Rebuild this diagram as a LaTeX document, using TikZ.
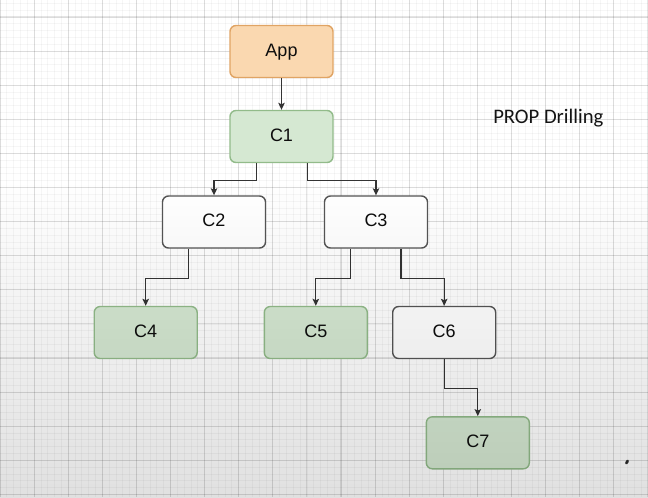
\documentclass[tikz,border=0pt]{standalone}
\usepackage{fontspec}
\newfontfamily\nodefont{Liberation Sans}
\newfontfamily\propfont{Carlito}
\usetikzlibrary{arrows.meta,calc,fadings}
\definecolor{appfill}{HTML}{FAD8B0}
\definecolor{appdraw}{HTML}{E0A464}
\definecolor{grnfill}{HTML}{D5E8D2}
\definecolor{grndraw}{HTML}{92BB8A}
\definecolor{wdraw}{HTML}{555555}
\definecolor{linec}{HTML}{333333}
\tikzfading[name=vdown, top color=transparent!100, bottom color=transparent!0]
\tikzset{
  box/.style={rounded corners=4.5pt, minimum width=77.25pt, minimum height=39pt,
    line width=1.05pt, inner sep=0pt, text=black!95,
    font=\nodefont\fontsize{13.5}{16}\selectfont, text height=0.716em, text depth=0pt},
  appbox/.style={box, fill=appfill, draw=appdraw},
  grnbox/.style={box, fill=grnfill, draw=grndraw},
  whbox/.style={box, fill=white, draw=wdraw},
  arr/.style={draw=linec, line width=1pt, -{Stealth[length=5.2pt,width=4.8pt,inset=1pt]}},
  minorgrid/.style={draw=black, opacity=0.035, line width=0.6pt},
  majorgrid/.style={draw=black, opacity=0.10, line width=0.8pt},
}
\begin{document}
\begin{tikzpicture}[x=0.75pt,y=-0.75pt]
\useasboundingbox (0,0) rectangle (648,497);
\fill[white] (0,0) rectangle (648,497);
% grid
\foreach \i in {0,...,95} {\draw[minorgrid] (\i*6.82,0) -- (\i*6.82,497);}
\foreach \j in {-2,...,70} {\draw[minorgrid] (0,17+\j*6.82) -- (648,17+\j*6.82);}
\foreach \i in {0,...,19} {\draw[majorgrid] (\i*34.1,0) -- (\i*34.1,497);}
\foreach \j in {0,...,14} {\draw[majorgrid] (0,17+\j*34.1) -- (648,17+\j*34.1);}
% nodes
\node[appbox] (app) at (281.5,51.5) {App};
\node[grnbox] (c1) at (281.5,136.5) {C1};
\node[whbox] (c2) at (214,222) {C2};
\node[whbox] (c3) at (376,222) {C3};
\node[grnbox] (c4) at (145.7,332.5) {C4};
\node[grnbox] (c5) at (315.8,332.5) {C5};
\node[whbox] (c6) at (444.2,332.5) {C6};
\node[grnbox] (c7) at (477.8,442.8) {C7};
% connectors
\draw[arr] (app) -- (c1);
\draw[arr] ($(c1.south)+(-25,0)$) -- ++(0,17.5) -| (c2.north);
\draw[arr] ($(c1.south)+(26,0)$) -- ++(0,17.5) -| (c3.north);
\draw[arr] ($(c2.south)+(-25.5,0)$) -- ++(0,29.5) -| (c4.north);
\draw[arr] ($(c3.south)+(-25.7,0)$) -- ++(0,29.5) -| (c5.north);
\draw[arr] ($(c3.south)+(25,0)$) -- ++(0,29.5) -| (c6.north);
\draw[arr] (c6.south) -- ++(0,29) -| (c7.north);
% label
\node[anchor=base west, inner sep=0pt, font=\propfont\fontsize{15.5}{18}\selectfont, text=black!92] (prop) at (493,123.3) {PROP Drilling};
% bottom shading overlay
\fill[black, opacity=0.145, path fading=vdown] (0,180) rectangle (648,560);
% cursor mark
\fill[black!85, rotate around={-30:(627,462)}] (627,462) ellipse (1.1pt and 1.9pt);
\end{tikzpicture}
\end{document}
